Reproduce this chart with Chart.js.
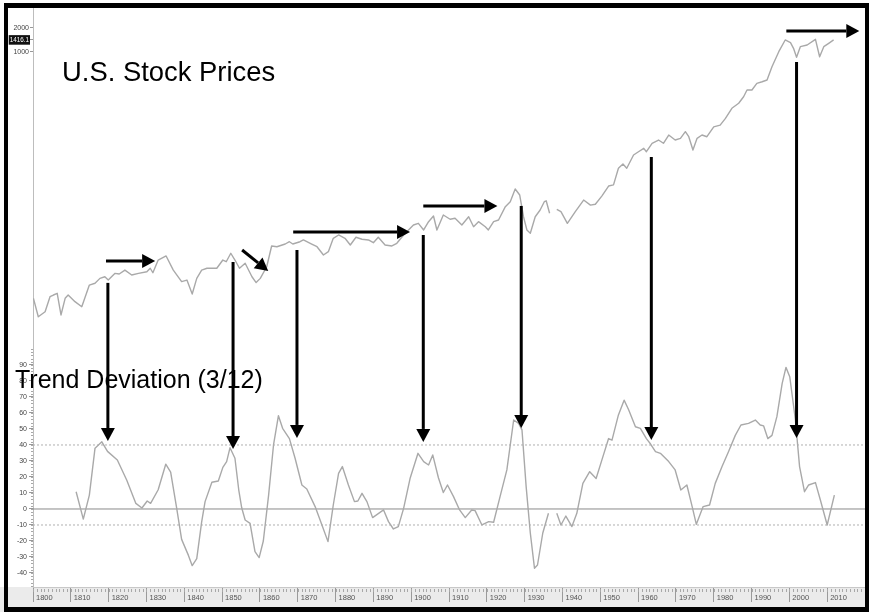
<!DOCTYPE html>
<html>
<head>
<meta charset="utf-8">
<script src="https://cdn.jsdelivr.net/npm/chart.js@4/dist/chart.umd.min.js"></script>
<style>
  html, body { margin: 0; padding: 0; background: #fff; }
  #wrap { position: relative; width: 869px; height: 612px; overflow: hidden; }
  #c { position: absolute; left: 0; top: 0; }
  #frame { position: absolute; left: 4px; top: 3px; width: 857px; height: 599px;
           border-style: solid; border-color: #000; border-width: 5px 4px 5px 4px; pointer-events: none; }
  .lbl { position: absolute; font-family: "Liberation Sans", Arial, sans-serif; color: #000; white-space: nowrap; line-height: 1; }
  #t1 { left: 62px; top: 58px; font-size: 27.4px; }
  #t2 { left: 15px; top: 367px; font-size: 25px; }
</style>
</head>
<body>
<div id="wrap">
  <canvas id="c" width="869" height="612"></canvas>
  <div id="frame"></div>
  <div class="lbl" id="t1">U.S. Stock Prices</div>
  <div class="lbl" id="t2">Trend Deviation (3/12)</div>
</div>
<script>
// ---------------- DATA ----------------
const priceYears = [
  1800.1,1801.4,1803.2,1804.5,1805.4,1806.4,1807.4,1808.5,1809.3,1811.1,
  1812.9,1814.9,1816.4,1817.7,1819.0,1819.9,1821.7,1822.8,1824.3,1826.1,
  1827.9,1830.1,1831.0,1831.7,1833.1,1835.2,1837.1,1839.3,1840.7,1842.1,
  1843.3,1844.6,1846.0,1848.6,1850.2,1851.1,1852.3,1853.4,1854.6,1856.1,
  1857.9,1859.0,1860.1,1861.8,1863.1,1864.5,1866.7,1867.8,1868.7,1870.6,
  1871.5,1873.7,1875.1,1876.8,1878.1,1879.4,1880.8,1882.5,1883.9,1885.4,
  1887.0,1888.7,1890.0,1891.3,1893.1,1894.9,1896.2,1898.0,1899.3,1900.6,
  1901.9,1903.3,1904.6,1905.9,1906.8,1908.5,1910.3,1911.6,1913.4,1915.2,
  1916.5,1917.8,1919.6,1920.4,1921.8,1923.1,1924.9,1926.2,1927.5,1928.7,
  1929.7,1930.6,1931.5,1932.8,1934.1,1935.2,1935.7,1936.6,1937.5,1938.5,
  1939.6,1941.3,1943.4,1945.6,1947.4,1948.7,1950.4,1952.2,1953.5,1954.8,
  1956.0,1957.0,1958.8,1960.1,1961.5,1962.2,1963.7,1965.4,1966.7,1968.1,
  1969.8,1971.2,1972.5,1973.4,1974.5,1975.6,1976.9,1978.2,1980.0,1981.7,
  1983.1,1984.8,1986.6,1987.9,1988.8,1990.1,1991.4,1992.8,1994.1,1995.4,
  1997.2,1998.9,2000.3,2001.1,2001.9,2002.9,2004.7,2006.9,2008.0,2009.1,
  2010.4,2011.7
];
const priceValues = [
  0.834,0.491,0.567,0.873,0.917,0.964,0.516,0.834,0.917,0.757,
  0.655,1.22,1.285,1.48,1.55,1.41,1.71,1.68,1.88,1.63,
  1.71,1.79,1.98,1.74,2.51,2.82,1.88,1.35,1.41,0.944,
  1.48,1.88,1.98,1.98,2.51,2.39,3.05,2.51,1.98,2.29,
  1.55,1.31,1.48,2.07,3.76,3.68,3.98,4.25,3.98,4.25,
  4.47,3.98,3.68,2.90,3.19,4.69,5.16,4.69,3.87,4.83,
  4.56,4.47,4.13,4.83,3.87,3.76,4.06,5.16,5.96,6.88,
  7.22,5.96,7.57,8.91,5.96,9.17,8.11,8.34,6.88,8.73,
  6.55,7.57,6.55,5.96,7.57,7.94,11.65,13.45,19.4,16.3,
  8.73,5.96,5.42,8.73,10.6,13.45,13.8,9.64,null,10.8,
  10.1,7.22,10.1,14.1,12.2,12.5,15.8,21.1,21.8,35.2,
  39.8,35.2,51.6,56.7,62.5,56.7,72.3,79.4,72.3,91.7,
  79.4,83.4,101,87.3,59.6,83.4,91.7,87.3,116,122,
  148,198,229,276,335,335,406,425,447,655,
  1009,1413,1307,1112,859,1165,1223,1441,873,1165,
  1284,1416.1
];
const devYears = [
  1811.4,1813.3,1814.9,1816.4,1818.2,1819.7,1822.3,1824.8,1827.2,1828.8,
  1830.2,1831.1,1833.1,1835.1,1836.4,1838.0,1839.3,1841.1,1842.1,1843.3,
  1844.6,1845.5,1847.3,1849.0,1850.2,1851.2,1852.1,1853.4,1854.4,1855.2,
  1856.1,1857.4,1858.7,1859.8,1860.9,1862.3,1863.6,1864.9,1866.0,1867.8,
  1869.3,1871.1,1872.4,1874.6,1876.4,1878.0,1879.4,1880.8,1881.8,1883.4,
  1885.0,1885.9,1887.0,1888.3,1889.8,1892.7,1894.0,1895.3,1896.6,1898.0,
  1899.7,1901.8,1903.3,1904.6,1905.7,1907.2,1908.5,1909.6,1911.2,1912.8,
  1914.3,1916.0,1916.9,1918.7,1920.5,1921.8,1923.5,1925.3,1927.1,1928.4,
  1929.3,1930.4,1931.5,1932.6,1933.4,1934.8,1936.3,1937.4,1938.5,1939.6,
  1940.9,1942.5,1943.8,1945.4,1947.2,1948.9,1950.7,1952.2,1953.1,1954.8,
  1956.3,1957.5,1959.3,1960.6,1962.2,1963.3,1964.6,1965.9,1968.1,1969.8,
  1971.3,1972.9,1974.3,1975.4,1977.2,1978.9,1980.4,1982.2,1983.9,1985.7,
  1987.2,1989.2,1991.0,1992.3,1993.2,1994.3,1995.4,1996.7,1998.1,1999.1,
  2000.1,2001.6,2002.7,2004.0,2005.1,2006.9,2008.2,2010.0,2011.9
];
const devValues = [
  10.8,-6.3,8.7,38,42,36,30.6,18,3.5,0.6,
  5,3.5,12,28,23,0.4,-19,-29,-35.4,-31,
  -8,4.6,16.7,17.5,26,29.6,38.3,31.7,12,0.6,
  -6.9,-9,-26.7,-30.4,-20,8.7,40,58.3,50.4,44,
  31.7,15,12.5,1.5,-10,-20.4,2.5,22.3,26.5,15,
  4.6,5,9.8,4.6,-5.4,-0.6,-7.9,-12.5,-11,0.4,
  19,34.8,29.6,27.5,33.8,19.5,10.3,15,7.7,-0.6,
  -5.4,-0.6,-1,-10,-7.9,-8.3,7.7,24.4,55.6,53.5,
  49.4,14,-15,-37,-35,-15,-2.7,null,-2.7,-10,
  -4.4,-11,-2.7,16,23.3,19,32.7,44,43,58.8,
  68,62,51.4,50.4,44,40.6,35.8,34.8,29.6,24.4,
  11.9,15,1.5,-9.6,1.5,2.5,16,26.5,35.8,46,
  52.5,53.5,55.6,52.5,51.9,44,46,57.7,78.5,88.5,
  82.7,55.6,26.5,10.8,15,16.5,5.6,-10,8.7
];
const xTickYears = [1800,1810,1820,1830,1840,1850,1860,1870,1880,1890,1900,1910,1920,1930,1940,1950,1960,1970,1980,1990,2000,2010,2020];
const priceTicks = [1000, 1416.1, 2000];
const lastPrice = 1416.1;
const devTicks = [-40,-30,-20,-10,0,10,20,30,40,50,60,70,80,90];
const refLevels = [40, 0, -10];

// annotation arrows within the price panel (year, price) -> (year, price)
const hArrowYear0  = [1819.3, 1855.3, 1868.8, 1903.2, 1999.2];
const hArrowPrice0 = [2.44,   3.35,   5.62,   11.9,   1830];
const hArrowYear1  = [1832.3, 1862.2, 1899.7, 1922.8, 2018.5];
const hArrowPrice1 = [2.44,   1.83,   5.62,   11.9,   1830];
// vertical arrows from price panel down to deviation panel
const vArrowYear     = [1819.8, 1852.9, 1869.8, 1903.2, 1929.1, 1963.5, 2001.9];
const vArrowTopPrice = [1.30,   2.37,   3.35,   5.16,   11.9,   48.7,   750];
const vArrowTipDev   = [42.5,   37.5,   44.4,   41.9,   50.6,   43.1,   44.4];

// ---------------- CHART ----------------
const FONT = "'Liberation Sans', Arial, sans-serif";
const priceData = priceYears.map((yr, i) => ({x: yr, y: priceValues[i]}));
const devData = devYears.map((yr, i) => ({x: yr, y: devValues[i]}));
const refSets = refLevels.map(l => ({
  data: [{x: 1800, y: l}, {x: 2020, y: l}],
  yAxisID: 'y2',
  borderColor: l === 0 ? '#8a8a8a' : '#b0b0b0',
  borderWidth: 1,
  borderDash: l === 0 ? [] : [2, 2],
  pointRadius: 0,
  order: 5
}));

function drawArrow(ctx, x0, y0, x1, y1) {
  const a = Math.atan2(y1 - y0, x1 - x0);
  const L = 13, W = 7;
  const bx = x1 - L * Math.cos(a), by = y1 - L * Math.sin(a);
  ctx.beginPath(); ctx.moveTo(x0, y0); ctx.lineTo(bx, by); ctx.stroke();
  ctx.beginPath();
  ctx.moveTo(x1, y1);
  ctx.lineTo(bx - W * Math.sin(a), by + W * Math.cos(a));
  ctx.lineTo(bx + W * Math.sin(a), by - W * Math.cos(a));
  ctx.closePath(); ctx.fill();
}

const decoPlugin = {
  id: 'deco',
  beforeDraw(chart) {
    const {ctx, scales: {x}} = chart;
    ctx.save();
    ctx.fillStyle = '#ebebeb';
    ctx.fillRect(0, x.top, chart.width, chart.height - x.top);
    ctx.restore();
  },
  afterDraw(chart) {
    const {ctx, scales: {x, y2}} = chart;
    ctx.save();
    ctx.strokeStyle = '#a8a8a8';
    ctx.lineWidth = 1;
    for (let yr = 1800; yr <= 2020; yr++) {
      const px = Math.round(x.getPixelForValue(yr)) + 0.5;
      ctx.beginPath(); ctx.moveTo(px, x.top + 2); ctx.lineTo(px, x.top + 5); ctx.stroke();
    }
    for (let v = -48; v <= 100; v += 2) {
      const py = Math.round(y2.getPixelForValue(v)) + 0.5;
      ctx.beginPath(); ctx.moveTo(y2.right - 2, py); ctx.lineTo(y2.right, py); ctx.stroke();
    }
    ctx.restore();
  },
  afterDatasetsDraw(chart) {
    const {ctx, scales: {x, y, y2}} = chart;
    ctx.save();
    ctx.strokeStyle = '#000'; ctx.fillStyle = '#000'; ctx.lineWidth = 3;
    for (let i = 0; i < hArrowYear0.length; i++) {
      drawArrow(ctx, x.getPixelForValue(hArrowYear0[i]), y.getPixelForValue(hArrowPrice0[i]),
                     x.getPixelForValue(hArrowYear1[i]), y.getPixelForValue(hArrowPrice1[i]));
    }
    for (let i = 0; i < vArrowYear.length; i++) {
      const px = x.getPixelForValue(vArrowYear[i]);
      drawArrow(ctx, px, y.getPixelForValue(vArrowTopPrice[i]), px, y2.getPixelForValue(vArrowTipDev[i]));
    }
    ctx.restore();
  }
};

new Chart(document.getElementById('c'), {
  type: 'line',
  data: {
    datasets: [
      { data: priceData, yAxisID: 'y', borderColor: '#a9a9a9', borderWidth: 1.4, pointRadius: 0, tension: 0, spanGaps: false, order: 1 },
      { data: devData, yAxisID: 'y2', borderColor: '#a9a9a9', borderWidth: 1.4, pointRadius: 0, tension: 0, spanGaps: false, order: 1 },
      ...refSets
    ]
  },
  options: {
    responsive: false,
    animation: false,
    layout: { padding: { left: 8, top: 8, right: 4, bottom: 5 } },
    plugins: { legend: { display: false }, tooltip: { enabled: false } },
    elements: { line: { borderJoinStyle: 'round' } },
    scales: {
      x: {
        type: 'linear', position: 'bottom', min: 1800, max: 2020,
        afterBuildTicks: s => { s.ticks = xTickYears.map(v => ({value: v})); },
        afterFit: s => { s.height = 20; s.paddingLeft = 0; s.paddingRight = 0; },
        ticks: { align: 'start', labelOffset: 3, padding: -9, autoSkip: false, maxRotation: 0,
                 font: { family: FONT, size: 7.5 }, color: '#555', callback: v => String(v) },
        grid: { drawOnChartArea: false, tickLength: 15, color: '#9a9a9a' },
        border: { color: '#c8c8c8' }
      },
      y: {
        type: 'logarithmic', position: 'left', stack: 'v', stackWeight: 340, weight: 1,
        min: 0.1995, max: 3548,
        afterBuildTicks: s => { s.ticks = priceTicks.map(v => ({value: v})); },
        afterFit: s => { s.width = 25; },
        ticks: { autoSkip: false, padding: 1,
                 font: c => ({ family: FONT, size: (c.tick && c.tick.value === lastPrice) ? 6.3 : 7 }),
                 color: c => (c.tick && c.tick.value === lastPrice) ? '#fff' : '#444',
                 showLabelBackdrop: c => !!(c.tick && c.tick.value === lastPrice),
                 backdropColor: '#111', backdropPadding: 1,
                 callback: v => String(v) },
        grid: { drawOnChartArea: false, tickLength: 3, color: '#999' },
        border: { color: '#bdbdbd' }
      },
      y2: {
        type: 'linear', position: 'left', stack: 'v', stackWeight: 239, weight: 0,
        min: -48.75, max: 100.6,
        afterBuildTicks: s => { s.ticks = devTicks.map(v => ({value: v})); },
        afterFit: s => { s.width = 25; },
        ticks: { autoSkip: false, padding: 2, font: { family: FONT, size: 7 }, color: '#444', callback: v => String(v) },
        grid: { drawOnChartArea: false, tickLength: 4, color: '#999' },
        border: { color: '#bdbdbd' }
      }
    }
  },
  plugins: [decoPlugin]
});
</script>
</body>
</html>
